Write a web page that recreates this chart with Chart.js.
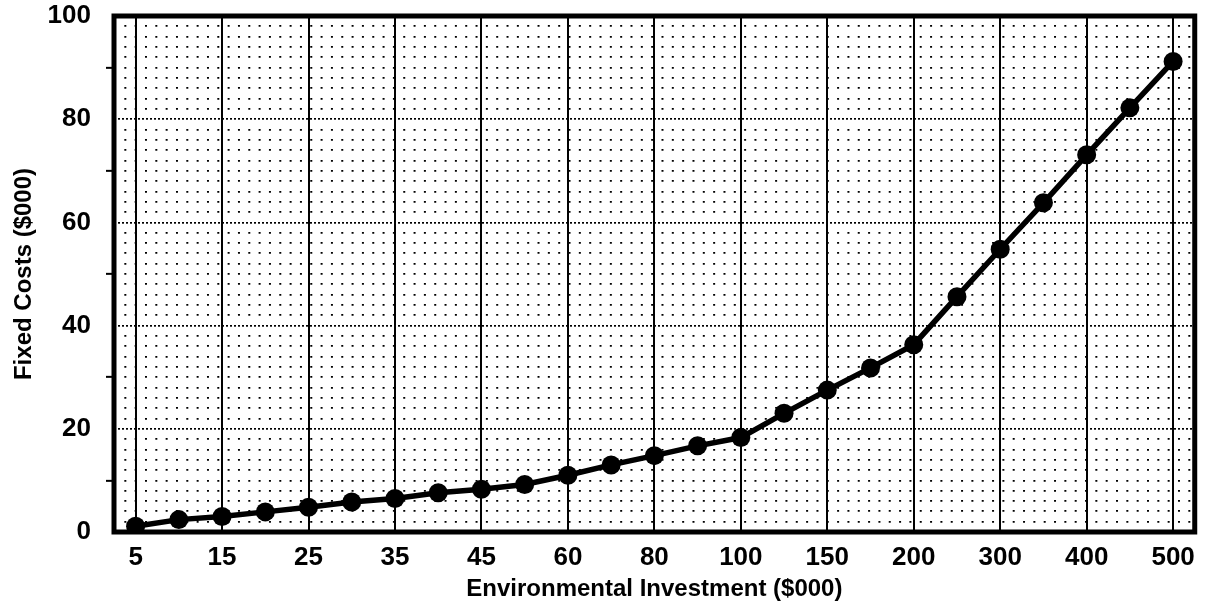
<!DOCTYPE html>
<html>
<head>
<meta charset="utf-8">
<script src="https://cdn.jsdelivr.net/npm/chart.js@4/dist/chart.umd.min.js"></script>
<style>
  html, body { margin: 0; padding: 0; background: #fff; }
  #wrap { width: 1205px; height: 609px; }
</style>
</head>
<body>
<div id="wrap"><canvas id="c" width="1205" height="609"></canvas></div>
<script>
// Environmental investment levels ($000) along the x axis
const investment = ['5', '10', '15', '20', '25', '30', '35', '40', '45', '50', '60', '70', '80',
                    '90', '100', '125', '150', '175', '200', '250', '300', '350', '400', '450', '500'];
// Fixed costs ($000) for each investment level
const fixedCosts = [1.1, 2.4, 3.0, 3.9, 4.8, 5.8, 6.5, 7.6, 8.3, 9.2, 11.0, 13.0, 14.8,
                    16.7, 18.3, 23.0, 27.5, 31.8, 36.3, 45.6, 54.8, 63.8, 73.1, 82.2, 91.2];
// Labelled values on the cost axis
const costTicks = [0, 20, 40, 60, 80, 100];

const FONT = "'Liberation Sans', Arial, Helvetica, sans-serif";

// Heavy black frame around the plotting area
const framePlugin = {
  id: 'frame',
  afterDatasetsDraw(chart) {
    const { ctx, chartArea: a } = chart;
    ctx.save();
    ctx.strokeStyle = '#000';
    ctx.lineWidth = 5;
    ctx.strokeRect(a.left, a.top, a.right - a.left, a.bottom - a.top);
    ctx.restore();
  }
};

new Chart(document.getElementById('c'), {
  type: 'line',
  data: {
    labels: investment,
    datasets: [{
      data: fixedCosts,
      borderColor: '#000',
      backgroundColor: '#000',
      borderWidth: 5.5,
      pointRadius: 9.5,
      pointBackgroundColor: '#000',
      pointBorderWidth: 0,
      tension: 0,
      yAxisID: 'y'
    }]
  },
  options: {
    responsive: false,
    animation: false,
    devicePixelRatio: 1,
    layout: { padding: { top: 16, right: 7, left: 0, bottom: 0 } },
    plugins: { legend: { display: false }, tooltip: { enabled: false } },
    scales: {
      x: {
        type: 'category',
        offset: true,
        afterFit(s) { s.height = 77; },
        grid: {
          offset: false,
          drawTicks: false,
          lineWidth: 2,
          color: ctx => (ctx.index % 2 === 0 ? '#000' : 'rgba(0,0,0,0)')
        },
        border: { display: false },
        ticks: {
          autoSkip: false,
          maxRotation: 0,
          padding: 10,
          color: '#000',
          font: { family: FONT, size: 26, weight: 'bold' },
          callback(value, index) { return index % 2 === 0 ? this.getLabelForValue(value) : ''; }
        },
        title: {
          display: true,
          text: 'Environmental Investment ($000)',
          color: '#000',
          font: { family: FONT, size: 24, weight: 'bold' },
          padding: { top: 0, bottom: 5 }
        }
      },
      y: {
        type: 'linear',
        position: 'left',
        min: 0,
        max: 100,
        afterFit(s) {
          s.width = 114;
          s.paddingTop = 0;
          s.paddingBottom = 0;
        },
        afterBuildTicks(s) {
          // label every 20, short tick marks halfway between
          const vals = [];
          for (let i = 0; i < costTicks.length; i++) {
            vals.push(costTicks[i]);
            if (i < costTicks.length - 1) vals.push((costTicks[i] + costTicks[i + 1]) / 2);
          }
          s.ticks = vals.sort((p, q) => p - q).map(v => ({ value: v }));
        },
        grid: {
          lineWidth: 1.7,
          color: ctx => (costTicks.includes(ctx.tick.value) ? '#000' : 'rgba(0,0,0,0)'),
          tickColor: ctx => (costTicks.includes(ctx.tick.value) ? 'rgba(0,0,0,0)' : '#000'),
          tickLength: 8,
          tickWidth: 2
        },
        border: { display: false, dash: [2, 2] },
        ticks: {
          padding: 15,
          color: '#000',
          font: { family: FONT, size: 26, weight: 'bold' },
          callback: v => (costTicks.includes(v) ? String(v) : '')
        },
        title: {
          display: true,
          text: 'Fixed Costs ($000)',
          color: '#000',
          font: { family: FONT, size: 24, weight: 'bold' },
          padding: { top: 10, bottom: 0 }
        }
      },
      // fine stipple rows across the plot background
      yDots: {
        type: 'linear',
        position: 'left',
        min: 0,
        max: 100,
        afterFit(s) {
          s.width = 0;
          s.paddingTop = 0;
          s.paddingBottom = 0;
        },
        grid: {
          drawTicks: false,
          lineWidth: 1.8,
          color: ctx => (ctx.tick.value % 20 === 0 ? 'rgba(0,0,0,0)' : '#000')
        },
        border: { display: false, dash: [2, 8.33] },
        ticks: { display: false, stepSize: 2 }
      }
    }
  },
  plugins: [framePlugin]
});
</script>
</body>
</html>
